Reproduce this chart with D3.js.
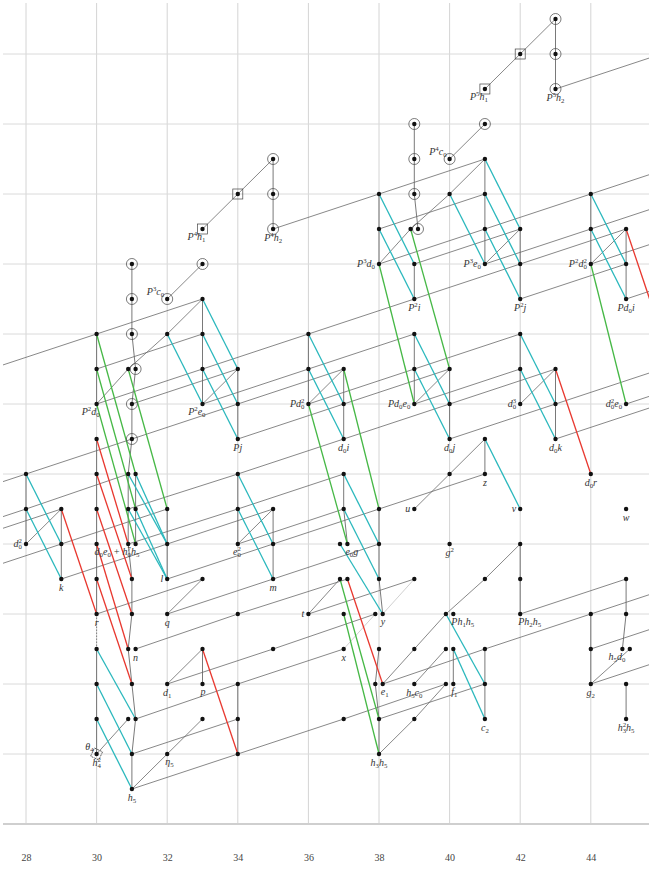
<!DOCTYPE html>
<html>
<head>
<meta charset="utf-8">
<script src="https://cdn.jsdelivr.net/npm/d3@7"></script>
<style>
  body { margin: 0; background: #fff; }
</style>
</head>
<body>
<div id="chart"></div>
<script>
// stems on the x axis, grid spacing
const stemTicks = [28, 30, 32, 34, 36, 38, 40, 42, 44]
const gridStems = [28, 30, 32, 34, 36, 38, 40, 42, 44, 46]
const gridFilts = [0, 2, 4, 6, 8, 10, 12, 14, 16, 18, 20, 22]

// classes as "stem,filtration", L / R when two share a spot
const plainDots = [
  '28,8', '28,9', '28,10',
  '29,7', '29,8', '29,9',
  '30,3', '30,4', '30,5', '30,6', '30,7', '30,8', '30,9', '30,10', '30,11', '30,12', '30,13', '30,14',
  '31,1', '31,2', '31,3L', '31,3R', '31,4', '31,5L', '31,5R', '31,6', '31,7', '31,8L', '31,8R',
  '31,9L', '31,9R', '31,10L', '31,10R', '31,13L',
  '32,2', '32,4', '32,6', '32,7', '32,8', '32,9', '32,14',
  '33,3', '33,4', '33,5', '33,7', '33,12', '33,13', '33,14', '33,15',
  '34,2', '34,3', '34,4', '34,6', '34,8', '34,9', '34,10', '34,11', '34,12', '34,13',
  '35,5', '35,7', '35,8', '35,9',
  '36,6', '36,12', '36,13', '36,14',
  '37,3', '37,5', '37,6', '37,7L', '37,7R', '37,8L', '37,8R', '37,9', '37,10', '37,11', '37,12', '37,13',
  '38,2', '38,3', '38,4L', '38,4R', '38,5', '38,6L', '38,6R', '38,7', '38,8', '38,9', '38,16', '38,17', '38,18',
  '39,3', '39,4', '39,5', '39,7', '39,9', '39,12', '39,13', '39,14', '39,15', '39,16', '39,17L',
  '40,4L', '40,4R', '40,5L', '40,5R', '40,6L', '40,6R', '40,8', '40,10', '40,11', '40,12', '40,13', '40,18',
  '41,3', '41,4', '41,5', '41,7', '41,10', '41,11', '41,16', '41,17', '41,18', '41,19',
  '42,6', '42,7', '42,8', '42,9', '42,12', '42,13', '42,14', '42,15', '42,16', '42,17',
  '43,11', '43,12', '43,13',
  '44,4', '44,5', '44,6', '44,10', '44,16', '44,17', '44,18',
  '45,3', '45,4', '45,5L', '45,5R', '45,6', '45,7', '45,9', '45,12', '45,15', '45,16', '45,17'
]
const circledDots = [
  '31,11', '31,12', '31,13R', '31,14', '31,15', '31,16', '32,15', '33,16',
  '35,17', '35,18', '35,19', '39,17R', '39,18', '39,19', '39,20',
  '40,19', '41,20', '43,21', '43,22', '43,23'
]
const boxedDots = ['33,17', '34,18', '41,21', '42,22']
const specialDots = ['30,2']

// label text uses ^ for superscript and _ for subscript
const labels = [
  ['28,8', 'd_0^2', 'l'], ['29,7', 'k', 'b'], ['30,6', 'r', 'b'], ['30,12', 'P^2d_0', 'bl'],
  ['30,8', 'd_0e_0 + h_0^7h_5', 'br'], ['31,1', 'h_5', 'b'], ['31,5R', 'n', 'b'], ['32,2', 'η_5', 'br'],
  ['32,4', 'd_1', 'b'], ['32,6', 'q', 'b'], ['32,7', 'l', 'l'], ['32,15', 'P^3c_0', 'ul'],
  ['33,4', 'p', 'bl'], ['33,12', 'P^2e_0', 'bl'], ['33,17', 'P^4h_1', 'bl'], ['34,8', 'e_0^2', 'bl'],
  ['34,11', 'Pj', 'b'], ['35,7', 'm', 'b'], ['35,17', 'P^4h_2', 'b'], ['36,6', 't', 'l'],
  ['36,12', 'Pd_0^2', 'l'], ['37,5', 'x', 'b'], ['37,8R', 'e_0g', 'br'], ['37,11', 'd_0i', 'b'],
  ['38,2', 'h_3h_5', 'b'], ['38,4R', 'e_1', 'br'], ['38,6R', 'y', 'br'], ['38,16', 'P^3d_0', 'l'],
  ['39,4', 'h_5c_0', 'b'], ['39,9', 'u', 'l'], ['39,12', 'Pd_0e_0', 'l'], ['39,15', 'P^2i', 'b'],
  ['40,4R', 'f_1', 'br'], ['40,6R', 'Ph_1h_5', 'br'], ['40,8', 'g^2', 'b'], ['40,11', 'd_0j', 'b'],
  ['40,19', 'P^4c_0', 'ul'], ['41,3', 'c_2', 'b'], ['41,10', 'z', 'b'], ['41,16', 'P^3e_0', 'l'],
  ['41,21', 'P^5h_1', 'bl'], ['42,6', 'Ph_2h_5', 'br'], ['42,9', 'v', 'l'], ['42,12', 'd_0^3', 'l'],
  ['42,15', 'P^2j', 'b'], ['43,11', 'd_0k', 'b'], ['43,21', 'P^5h_2', 'b'], ['44,4', 'g_2', 'b'],
  ['44,10', 'd_0r', 'b'], ['44,16', 'P^2d_0^2', 'l'], ['45,3', 'h_3^2h_5', 'b'], ['45,5L', 'h_5d_0', 'bl'],
  ['45,9', 'w', 'b'], ['45,12', 'd_0^2e_0', 'l'], ['45,15', 'Pd_0i', 'b'],
  ['30,2', 'θ_4', 'ul'], ['30,2', 'h_4^2', 'b']
]

// h0 towers (vertical chains)
const h0Lines = [
  ['28,8', '28,9', '28,10'], ['29,7', '29,8', '29,9'],
  ['30,2', '30,3', '30,4', '30,5'], ['30,6', '30,7', '30,8', '30,9', '30,10', '30,11'],
  ['30,12', '30,13', '30,14'],
  ['31,1', '31,2', '31,3R', '31,4', '31,5L', '31,6', '31,7', '31,8L', '31,9L', '31,10L',
    '31,11', '31,12', '31,13R', '31,14', '31,15', '31,16'],
  ['31,8R', '31,9R', '31,10R'], ['32,7', '32,8', '32,9'], ['33,4', '33,5'],
  ['33,12', '33,13', '33,14', '33,15'], ['34,2', '34,3', '34,4'], ['34,8', '34,9', '34,10'],
  ['34,11', '34,12', '34,13'], ['35,7', '35,8', '35,9'], ['35,17', '35,18', '35,19'],
  ['36,12', '36,13', '36,14'], ['37,8R', '37,9', '37,10'], ['37,11', '37,12', '37,13'],
  ['38,2', '38,3', '38,4L', '38,5'], ['38,6R', '38,7', '38,8', '38,9'], ['38,16', '38,17', '38,18'],
  ['39,12', '39,13', '39,14'], ['39,15', '39,16'], ['39,17R', '39,18', '39,19', '39,20'],
  ['40,4R', '40,5R'], ['40,11', '40,12', '40,13'], ['41,3', '41,4', '41,5'], ['41,10', '41,11'],
  ['41,16', '41,17', '41,18', '41,19'], ['42,6', '42,7', '42,8'], ['42,12', '42,13', '42,14'],
  ['42,15', '42,16', '42,17'], ['43,11', '43,12', '43,13'], ['43,21', '43,22', '43,23'],
  ['44,4', '44,5', '44,6'], ['44,16', '44,17', '44,18'], ['45,3', '45,4'],
  ['45,5L', '45,6', '45,7'], ['45,15', '45,16', '45,17']
]

// h1 multiplications (diagonal chains)
const h1Lines = [
  ['28,8', '29,9'], ['30,2', '31,3L'], ['31,1', '32,2', '33,3'], ['32,4', '33,5'], ['32,6', '33,7'],
  ['30,12', '31,13L', '32,14', '33,15'], ['32,15', '33,16'], ['33,17', '34,18', '35,19'],
  ['33,12', '34,13'], ['34,8', '35,9'], ['36,6', '37,7L'], ['36,12', '37,13'],
  ['38,2', '39,3', '40,4L'], ['39,4', '40,5L'], ['38,4R', '39,5', '40,6L'], ['40,6L', '41,7', '42,8'],
  ['39,9', '40,10', '41,11'], ['38,16', '39,17L', '40,18', '41,19'], ['39,12', '40,13'],
  ['42,12', '43,13'], ['41,16', '42,17'], ['44,16', '45,17'], ['40,19', '41,20'],
  ['41,21', '42,22', '43,23'], ['44,4', '45,5R']
]

// h2 multiplications (three stems right, one up)
const h2Lines = [
  ['25,9', '28,10'], ['25,8', '28,9'], ['26,8', '29,9'], ['26,7', '29,8'], ['27,13', '30,14'],
  ['28,10', '31,11'], ['28,9', '31,10L'], ['29,8', '32,9'], ['29,7', '32,8'], ['30,6', '33,7'],
  ['30,12', '33,13'], ['30,13', '33,14'], ['30,14', '33,15'],
  ['31,1', '34,2'], ['31,2', '34,3'], ['31,3R', '34,4'], ['31,5R', '34,6'], ['34,6', '37,7R'],
  ['31,11', '34,12'], ['31,12', '34,13'], ['31,8L', '34,9'], ['31,9L', '34,10'],
  ['32,4', '35,5'], ['35,5', '38,6L'], ['32,6', '35,7'], ['32,7', '35,8'], ['32,8', '35,9'],
  ['33,12', '36,13'], ['33,13', '36,14'], ['34,2', '37,3'], ['37,3', '40,4L'], ['34,4', '37,5'],
  ['34,8', '37,9'], ['34,9', '37,10'], ['34,10', '37,11'],
  ['34,11', '37,12'], ['34,12', '37,13'], ['35,7', '38,8'], ['35,8', '38,9'],
  ['35,17', '38,18'], ['38,18', '41,19'], ['38,17', '41,18'], ['38,16', '41,17'],
  ['36,6', '39,7'], ['36,12', '39,13'], ['36,13', '39,14'], ['36,14', '39,15'],
  ['37,11', '40,12'], ['37,12', '40,13'], ['38,3', '41,4'], ['38,4R', '41,5'], ['38,9', '41,10'],
  ['39,12', '42,13'], ['39,13', '42,14'], ['39,15', '42,16'], ['39,16', '42,17'],
  ['40,11', '43,12'], ['40,12', '43,13'], ['41,16', '44,17'], ['41,17', '44,18'],
  ['41,5', '44,6'], ['42,6', '45,7'], ['42,15', '45,16'], ['42,16', '45,17'],
  ['43,11', '46,12'], ['43,12', '46,13'], ['43,21', '46,22'],
  ['44,4', '47,5'], ['44,5', '47,6'], ['44,6', '47,7'],
  ['44,16', '47,17'], ['44,17', '47,18'], ['44,18', '47,19'], ['45,12', '48,13'], ['45,15', '48,16']
]

// differentials, drawn between target and source
const d2Lines = [
  ['28,10', '29,8'], ['28,9', '29,7'], ['30,3', '31,1'], ['30,4', '31,2'], ['30,5', '31,3R'],
  ['31,10L', '32,8'], ['31,10R', '32,8'], ['31,9L', '32,7'], ['31,9R', '32,7'],
  ['32,14', '33,12'], ['33,15', '34,13'], ['33,14', '34,12'], ['33,13', '34,11'],
  ['34,10', '35,8'], ['34,9', '35,7'], ['36,14', '37,12'], ['36,13', '37,11'],
  ['37,10', '38,8'], ['37,9', '38,7'], ['37,8L', '38,6R'], ['38,18', '39,16'], ['38,17', '39,15'],
  ['39,14', '40,12'], ['39,13', '40,11'], ['40,18', '41,16'], ['41,19', '42,17'],
  ['41,18', '42,16'], ['41,17', '42,15'], ['42,14', '43,12'], ['42,13', '43,11'],
  ['44,18', '45,16'], ['44,17', '45,15'], ['40,6L', '41,4'], ['40,5R', '41,3'], ['41,11', '42,9']
]
const d3Lines = [
  ['29,9', '30,6'], ['30,7', '31,4'], ['30,8', '31,5L'], ['30,9', '31,6'], ['30,10', '31,7'],
  ['30,11', '31,8L'], ['33,5', '34,2'], ['37,7R', '38,4R'], ['43,13', '44,10'], ['45,17', '46,14']
]
const d4Lines = [
  ['30,14', '31,10R'], ['30,13', '31,9R'], ['30,12', '31,8R'], ['31,13L', '32,9'],
  ['36,12', '37,8R'], ['37,13', '38,9'], ['38,16', '39,12'], ['39,17L', '40,13'],
  ['44,16', '45,12'], ['37,6', '38,2'], ['37,7L', '38,3']
]
const faintLines = [['38,6R', '39,7'], ['37,5', '38,6L']]
const dottedLines = [['30,5', '30,6']]

;(function() {
  let width = 649
  let height = 872

  let svg = d3.select('#chart')
    .append('svg')
    .attr('width', width)
    .attr('height', height)

  let x = d3.scaleLinear().domain([28, 46]).range([26, 661.4])
  let y = d3.scaleLinear().domain([0, 23]).range([824, 19])
  let shift = 0.105

  function pos(id) {
    let m = id.match(/^(\d+),(\d+)([LR]?)$/)
    let o = m[3] === 'L' ? -shift : m[3] === 'R' ? shift : 0
    return [x(+m[1] + o), y(+m[2])]
  }

  svg.append('clipPath').attr('id', 'plot')
    .append('rect').attr('x', 3).attr('y', 0).attr('width', width - 3).attr('height', y(0))

  // grid
  let grid = svg.append('g')
  grid.selectAll('.vgrid')
    .data(gridStems)
    .enter()
    .append('line')
    .attr('x1', d => x(d)).attr('x2', d => x(d))
    .attr('y1', 3).attr('y2', y(0))
    .attr('stroke', '#d4d4d4').attr('stroke-width', 1)
  grid.selectAll('.hgrid')
    .data(gridFilts)
    .enter()
    .append('line')
    .attr('x1', 3).attr('x2', width)
    .attr('y1', d => y(d)).attr('y2', d => y(d))
    .attr('stroke', d => d === 0 ? '#cfcfcf' : '#dadada')
    .attr('stroke-width', d => d === 0 ? 2 : 1)

  let xAxis = d3.axisBottom(x).tickValues(stemTicks).tickSize(0).tickPadding(0)
  svg.append('g')
    .attr('class', 'axis x-axis')
    .attr('transform', 'translate(0,854)')
    .call(xAxis)
    .call(g => g.select('.domain').remove())
    .selectAll('text')
    .attr('font-family', 'Liberation Serif')
    .attr('font-size', 10)
    .attr('fill', '#444')

  let plot = svg.append('g').attr('clip-path', 'url(#plot)')

  function pairs(chains) {
    let out = []
    chains.forEach(c => {
      for (let i = 1; i < c.length; i++) out.push([c[i - 1], c[i]])
    })
    return out
  }

  function drawLines(list, color, w, dash) {
    plot.append('g')
      .selectAll('line')
      .data(list)
      .enter()
      .append('line')
      .attr('x1', d => pos(d[0])[0]).attr('y1', d => pos(d[0])[1])
      .attr('x2', d => pos(d[1])[0]).attr('y2', d => pos(d[1])[1])
      .attr('stroke', color)
      .attr('stroke-width', w)
      .attr('stroke-dasharray', dash || null)
  }

  drawLines(pairs(h0Lines), '#6a6a6a', 0.9)
  drawLines(pairs(h1Lines), '#6a6a6a', 0.8)
  drawLines(h2Lines, '#6a6a6a', 0.8)
  drawLines(faintLines, '#c4c4c4', 0.8)
  drawLines(dottedLines, '#777', 0.9, '1.5,1.5')
  drawLines(d2Lines, '#2bb8bd', 1.3)
  drawLines(d3Lines, '#e8382f', 1.3)
  drawLines(d4Lines, '#46b846', 1.3)

  let marks = plot.append('g')

  marks.selectAll('.ring')
    .data(circledDots)
    .enter()
    .append('circle')
    .attr('cx', d => pos(d)[0]).attr('cy', d => pos(d)[1])
    .attr('r', 5.5)
    .attr('fill', 'none').attr('stroke', '#444').attr('stroke-width', 0.7)

  marks.selectAll('.box')
    .data(boxedDots)
    .enter()
    .append('rect')
    .attr('x', d => pos(d)[0] - 5).attr('y', d => pos(d)[1] - 5)
    .attr('width', 10).attr('height', 10)
    .attr('fill', 'none').attr('stroke', '#444').attr('stroke-width', 0.7)

  marks.selectAll('.special')
    .data(specialDots)
    .enter()
    .append('rect')
    .attr('x', -4.5).attr('y', -4.5)
    .attr('width', 9).attr('height', 9)
    .attr('transform', d => `translate(${pos(d)}) rotate(25)`)
    .attr('fill', 'none').attr('stroke', '#333').attr('stroke-width', 0.7)
    .attr('stroke-dasharray', '2,1')

  marks.selectAll('.dot')
    .data(plainDots.concat(circledDots, boxedDots, specialDots))
    .enter()
    .append('circle')
    .attr('cx', d => pos(d)[0]).attr('cy', d => pos(d)[1])
    .attr('r', 2.2)
    .attr('fill', '#111')

  let place = {
    l: [-4, 3, 'end'],
    bl: [3, 11, 'end'],
    b: [0, 12, 'middle'],
    br: [-2, 11, 'start'],
    ul: [-3, -4, 'end'],
    r: [4, 3, 'start']
  }

  // split "P^2d_0" into normal / raised / lowered runs
  function runs(str) {
    let out = []
    let i = 0
    while (i < str.length) {
      let c = str[i]
      if (c === '^' || c === '_') {
        out.push({ t: str[i + 1], k: c === '^' ? 'sup' : 'sub' })
        i += 2
      } else {
        let last = out[out.length - 1]
        if (last && last.k === 'n') last.t += c
        else out.push({ t: c, k: 'n' })
        i++
      }
    }
    return out
  }

  let texts = svg.append('g')
    .selectAll('text')
    .data(labels)
    .enter()
    .append('text')
    .attr('x', d => pos(d[0])[0] + place[d[2]][0])
    .attr('y', d => pos(d[0])[1] + place[d[2]][1])
    .attr('text-anchor', d => place[d[2]][2])
    .attr('font-family', 'Liberation Serif')
    .attr('font-style', 'italic')
    .attr('font-size', 10)
    .attr('fill', '#333')

  texts.each(function(d) {
    let t = d3.select(this)
    let cur = 0
    let prev = 'n'
    runs(d[1]).forEach(r => {
      let target = r.k === 'sup' ? -3.8 : r.k === 'sub' ? 2.4 : 0
      let span = t.append('tspan')
        .attr('dy', target - cur)
        .attr('font-style', r.k === 'n' ? null : 'normal')
        .attr('font-size', r.k === 'n' ? null : 6.8)
        .text(r.t)
      // stack a superscript right over a preceding subscript
      if (r.k === 'sup' && prev === 'sub') span.attr('dx', -3.4)
      cur = target
      prev = r.k
    })
  })
})()
</script>
</body>
</html>
